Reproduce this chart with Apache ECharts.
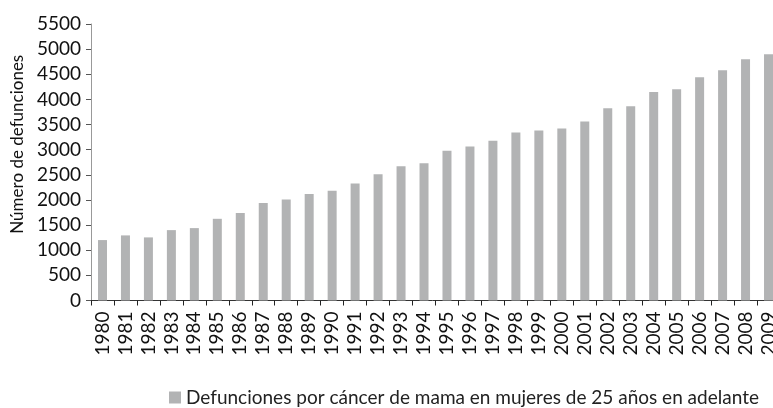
<!DOCTYPE html>
<html><head><meta charset="utf-8">
<script src="https://cdn.jsdelivr.net/npm/echarts@6/dist/echarts.min.js"></script>
<style>html,body{margin:0;padding:0;background:#fff}#c{width:773px;height:408px}</style>
</head><body><div id="c"></div>
<script>
const years = ['1980','1981','1982','1983','1984','1985','1986','1987','1988','1989','1990','1991','1992','1993','1994','1995','1996','1997','1998','1999','2000','2001','2002','2003','2004','2005','2006','2007','2008','2009'];
const deaths = [1202,1295,1255,1400,1440,1625,1739,1937,2010,2116,2182,2328,2513,2672,2732,2977,3063,3176,3341,3381,3420,3560,3825,3865,4149,4202,4441,4580,4798,4898];
const seriesName = 'Defunciones por cáncer de mama en mujeres de 25 años en adelante';
const yName = 'Número de defunciones';
const FONT = 'Lato';
const chart = echarts.init(document.getElementById('c'));
chart.setOption({
  animation: false,
  textStyle: {fontFamily: FONT},
  grid: {left: 91, width: 689, top: 24, bottom: 107.5, containLabel: false, outerBoundsMode: 'none'},
  legend: {
    data: [seriesName], top: 383, left: 164,
    itemWidth: 12, itemHeight: 12, itemGap: 9,
    textStyle: {fontFamily: FONT, fontSize: 19, color: '#222'},
    icon: 'rect'
  },
  xAxis: {
    type: 'category', data: years,
    axisLine: {lineStyle: {color: '#333', width: 1}},
    axisTick: {show: true, length: 5, lineStyle: {color: '#222'}},
    axisLabel: {rotate: 90, interval: 0, fontSize: 19, color: '#111', fontFamily: FONT, margin: 11}
  },
  yAxis: {
    type: 'value', min: 0, max: 5500, interval: 500,
    name: yName, nameLocation: 'middle', nameGap: 64,
    nameTextStyle: {fontSize: 17, color: '#111', fontFamily: FONT, padding: [0, 0, 0, 36]},
    axisLine: {show: true, lineStyle: {color: '#999', width: 1}},
    axisTick: {show: true, length: 5, inside: false, lineStyle: {color: '#555'}},
    splitLine: {show: false},
    axisLabel: {fontSize: 19, color: '#111', fontFamily: FONT, margin: 10, formatter: v => String(v)}
  },
  series: [{
    name: seriesName, type: 'bar', data: deaths, barWidth: 9,
    itemStyle: {color: '#b2b3b4'}
  }]
});
</script></body></html>
